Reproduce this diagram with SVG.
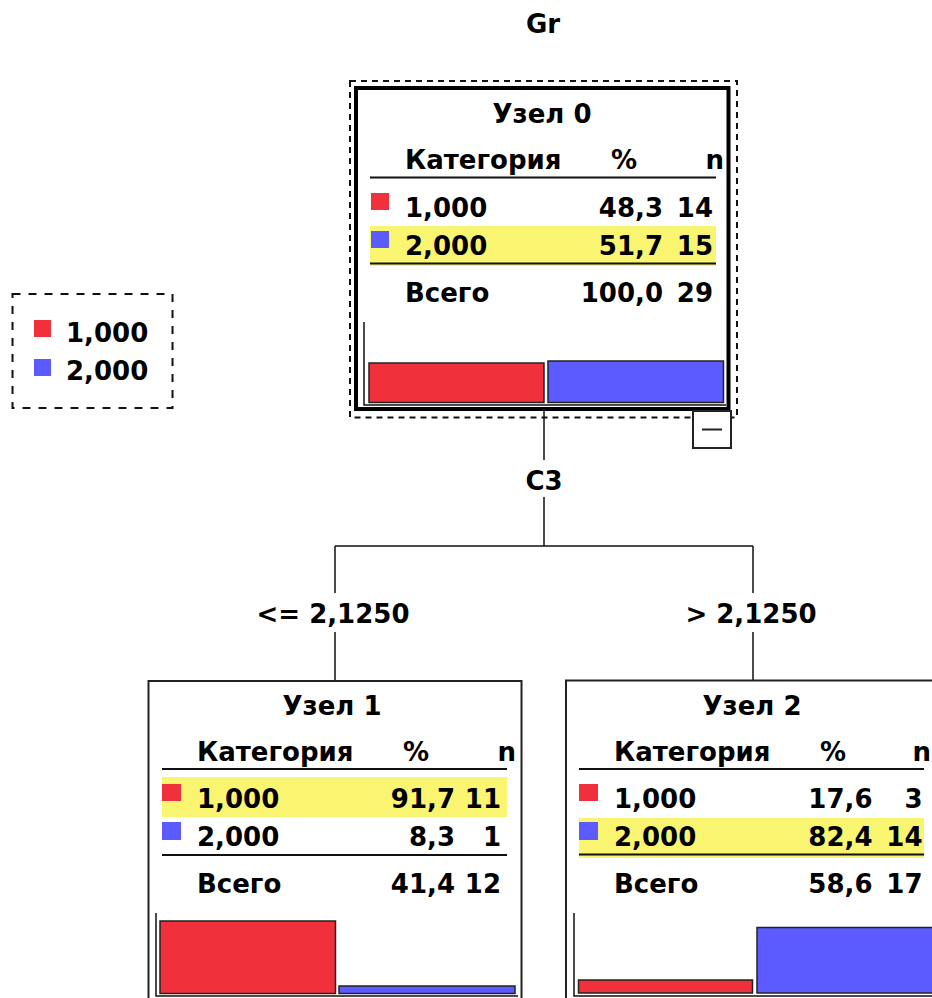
<svg xmlns="http://www.w3.org/2000/svg" width="932" height="998" viewBox="0 0 932 998">
<style>
text{font-family:"DejaVu Sans","Liberation Sans",sans-serif;font-weight:bold;font-size:26px;fill:#000}
.m{text-anchor:middle}
.e{text-anchor:end}
.box{fill:#fff;stroke:#222;stroke-width:2}
.rule{stroke:#111;stroke-width:2}
.hl{fill:#FAF570}
.red{fill:#F0303A}
.blue{fill:#5B5BFF}
.bar{stroke:#222;stroke-width:1.5}
.axis{fill:none;stroke:#111;stroke-width:1.5}
.conn{fill:none;stroke:#111;stroke-width:1.5}
</style>
<rect width="932" height="998" fill="#fff"/>
<text id="title" class="m" x="543" y="33">Gr</text>

<g id="legend">
<rect x="12.5" y="294" width="160" height="114" fill="none" stroke="#111" stroke-width="2" stroke-dasharray="8 8"/>
<rect class="red" x="34" y="320" width="17" height="17"/>
<text x="66" y="342">1,000</text>
<rect class="blue" x="34" y="359" width="17" height="17"/>
<text x="66" y="380">2,000</text>
</g>

<g id="connectors">
<path class="conn" d="M544 411V460M544 497V546M335 546H753M335 546V593M335 632V681M753 546V593M753 632V681"/>
<text class="m" x="544" y="490">C3</text>
<text class="m" x="333" y="623">&lt;= 2,1250</text>
<text class="m" x="751" y="623">&gt; 2,1250</text>
</g>

<g id="node0">
<rect x="350" y="81" width="387" height="336.5" fill="none" stroke="#111" stroke-width="2" stroke-dasharray="6 5"/>
<rect x="356" y="88" width="372.5" height="321" fill="#fff" stroke="#000" stroke-width="4"/>
<text class="m" x="542" y="123">Узел 0</text>
<text x="405" y="169">Категория</text>
<text class="m" x="624" y="169">%</text>
<text class="e" x="724" y="169">n</text>
<line class="rule" x1="370" y1="177.5" x2="716" y2="177.5"/>
<rect class="red" x="371" y="193" width="18" height="17"/>
<text x="405" y="217">1,000</text>
<text class="e" x="663" y="217">48,3</text>
<text class="e" x="713" y="217">14</text>
<rect class="hl" x="370" y="226" width="346" height="40"/>
<rect class="blue" x="371" y="231" width="18" height="17"/>
<text x="405" y="255">2,000</text>
<text class="e" x="663" y="255">51,7</text>
<text class="e" x="713" y="255">15</text>
<line class="rule" x1="370" y1="263.5" x2="716" y2="263.5"/>
<text x="405" y="302">Всего</text>
<text class="e" x="663" y="302">100,0</text>
<text class="e" x="713" y="302">29</text>
<polyline class="axis" points="364,322 364,405 726,405"/>
<rect class="red bar" x="369" y="363" width="175" height="39.5"/>
<rect class="blue bar" x="548" y="361" width="175.5" height="41.5"/>
<rect x="693" y="411" width="38" height="37" fill="#fff" stroke="#222" stroke-width="2"/>
<line x1="702" y1="429.5" x2="722" y2="429.5" stroke="#222" stroke-width="2"/>
</g>

<g id="node1">
<rect class="box" x="148.5" y="681" width="373" height="330"/>
<text class="m" x="332" y="715">Узел 1</text>
<text x="197" y="761">Категория</text>
<text class="m" x="416" y="761">%</text>
<text class="e" x="516" y="761">n</text>
<line class="rule" x1="162" y1="769" x2="507" y2="769"/>
<rect class="hl" x="162" y="777" width="345" height="40"/>
<rect class="red" x="162" y="784" width="19" height="17"/>
<text x="197" y="808">1,000</text>
<text class="e" x="455" y="808">91,7</text>
<text class="e" x="501" y="808">11</text>
<rect class="blue" x="162" y="822" width="19" height="18"/>
<text x="197" y="846">2,000</text>
<text class="e" x="455" y="846">8,3</text>
<text class="e" x="501" y="846">1</text>
<line class="rule" x1="162" y1="855" x2="507" y2="855"/>
<text x="197" y="893">Всего</text>
<text class="e" x="455" y="893">41,4</text>
<text class="e" x="501" y="893">12</text>
<polyline class="axis" points="156,913 156,996 518,996"/>
<rect class="red bar" x="160" y="921" width="175.5" height="72.5"/>
<rect class="blue bar" x="339" y="986" width="176" height="7.5"/>
</g>

<g id="node2">
<rect class="box" x="566" y="680.5" width="373" height="330"/>
<text class="m" x="752" y="715">Узел 2</text>
<text x="614" y="761">Категория</text>
<text class="m" x="833" y="761">%</text>
<text class="e" x="931" y="761">n</text>
<line class="rule" x1="579" y1="769" x2="924" y2="769"/>
<rect class="red" x="579" y="784" width="19" height="17"/>
<text x="614" y="808">1,000</text>
<text class="e" x="872.5" y="808">17,6</text>
<text class="e" x="922.5" y="808">3</text>
<rect class="hl" x="579" y="818" width="345" height="40"/>
<rect class="blue" x="579" y="822" width="19" height="18"/>
<text x="614" y="846">2,000</text>
<text class="e" x="872.5" y="846">82,4</text>
<text class="e" x="922.5" y="846">14</text>
<line class="rule" x1="579" y1="854.5" x2="924" y2="854.5"/>
<text x="614" y="893">Всего</text>
<text class="e" x="872.5" y="893">58,6</text>
<text class="e" x="922.5" y="893">17</text>
<polyline class="axis" points="574,913 574,996 936,996"/>
<rect class="red bar" x="578.5" y="980" width="174" height="13"/>
<rect class="blue bar" x="757" y="927.5" width="176" height="65.5"/>
</g>
</svg>
